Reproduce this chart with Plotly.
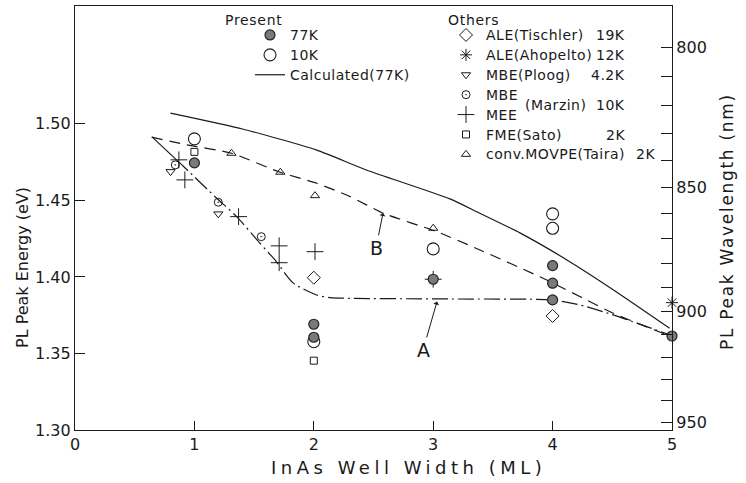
import plotly.graph_objects as go

# ---------------- data ----------------
# Present work, 77 K (filled circles)
x_77k = [1, 2, 2, 3, 4, 4, 4, 5]
e_77k = [1.4745, 1.3691, 1.3606, 1.3985, 1.4074, 1.3959, 1.3850, 1.3614]
# Present work, 10 K (open circles)
x_10k = [1, 2, 3, 4, 4]
e_10k = [1.4902, 1.3577, 1.4183, 1.4412, 1.4318]
# Others
x_tischler = [2, 4]
e_tischler = [1.3995, 1.3745]
x_ahopelto = [5]
e_ahopelto = [1.3832]
x_ploog = [0.80, 1.20]
e_ploog = [1.4688, 1.4412]
x_marzin_mbe = [0.84, 1.20, 1.56]
e_marzin_mbe = [1.4732, 1.4488, 1.4263]
x_marzin_mee = [0.87, 0.92, 1.37, 1.71, 1.71, 2.01, 3.0]
e_marzin_mee = [1.4765, 1.4634, 1.4394, 1.4203, 1.4093, 1.4165, 1.3985]
x_sato = [1, 2]
e_sato = [1.4817, 1.3453]
x_taira = [1.31, 1.72, 2.01, 3.0]
e_taira = [1.4808, 1.4684, 1.4531, 1.4318]

# Calculated (77 K) curve
x_calc = [0.80, 1.41, 2.02, 2.44, 3.14, 3.39, 3.73, 4.12, 4.51, 4.98]
e_calc = [1.5070, 1.4965, 1.4830, 1.4699, 1.4510, 1.4416, 1.4286, 1.4111, 1.3915, 1.3665]
# Guide line A (dash-dot, solid at its start)
x_line_a = [0.645, 0.85, 0.905, 1.187, 1.354, 1.549, 1.675, 1.826, 2.024, 2.136, 3.141, 3.987, 4.229, 4.506, 4.983]
e_line_a = [1.4915, 1.4765, 1.4725, 1.4514, 1.4394, 1.4220, 1.4111, 1.3961, 1.3882, 1.3865, 1.3856, 1.3850, 1.3817, 1.3752, 1.3621]
# Guide line B (dashed)
x_line_b = [0.642, 0.936, 1.312, 1.717, 2.024, 2.303, 2.582, 3.029, 3.392, 3.951, 4.508, 4.983]
e_line_b = [1.4913, 1.4863, 1.4808, 1.4684, 1.4612, 1.4525, 1.4416, 1.4296, 1.4176, 1.3980, 1.3763, 1.3614]

# legend texts
present_names = ["77K", "10K", "Calculated(77K)"]
others_names = ["ALE(Tischler)", "ALE(Ahopelto)", "MBE(Ploog)", "MBE", "MEE", "FME(Sato)", "conv.MOVPE(Taira)"]
others_temps = ["19K", "12K", "4.2K", "10K", "2K", "2K"]

# axis ticks
x_ticks = [0, 1, 2, 3, 4, 5]
e_ticks = [1.30, 1.35, 1.40, 1.45, 1.50]
e_tick_labels = ["1.30", "1.35", "1.40", "1.45", "1.50"]
wl_ticks = [800, 810, 820, 830, 840, 850, 860, 870, 880, 890, 900, 910, 920, 930, 940, 950]
wl_labels = ["800", "", "", "", "", "850", "", "", "", "", "900", "", "", "", "", "950"]

HC = 1239.84  # eV*nm
E_RANGE = [1.30, 1.577]
FONT = "DejaVu Sans"
INK = "#1a1a1a"

# plot-area geometry in pixels (used only for placing texts)
L, R, T, B = 75, 672, 6, 430
W, H = R - L, B - T


def px(xp):
    return (xp - L) / W


def py(yp):
    return (B - yp) / H


def lg(s, size=14, sp=0.5):
    return '<span style="font-size:%spx;letter-spacing:%spx">%s</span>' % (size, sp, s)


fig = go.Figure()

# ---- lines ----
fig.add_trace(go.Scatter(x=x_calc, y=e_calc, mode="lines", name=lg(present_names[2]),
                         line=dict(color=INK, width=1.2, shape="spline", smoothing=0.6),
                         legend="legend", legendrank=3))
fig.add_trace(go.Scatter(x=x_line_b, y=e_line_b, mode="lines", showlegend=False,
                         line=dict(color=INK, width=1.2, dash="11px,7px",
                                   shape="spline", smoothing=0.6)))
fig.add_trace(go.Scatter(x=x_line_a[:2], y=e_line_a[:2], mode="lines", showlegend=False,
                         line=dict(color=INK, width=1.2)))
fig.add_trace(go.Scatter(x=x_line_a[1:], y=e_line_a[1:], mode="lines", showlegend=False,
                         line=dict(color=INK, width=1.2, dash="16px,4px,2px,4px",
                                   shape="spline", smoothing=0.6)))


# ---- others ----
def others(xs, ys, name, symbol, size, rank, lw=1.0):
    fig.add_trace(go.Scatter(
        x=xs, y=ys, mode="markers", name=lg(name), legend="legend2", legendrank=rank,
        cliponaxis=False,
        marker=dict(symbol=symbol, size=size, color=INK, line=dict(color=INK, width=lw))))


others(x_tischler, e_tischler, others_names[0], "diamond-open", 10, 1)
others(x_ahopelto, e_ahopelto, others_names[1], "asterisk-open", 10, 2)
others(x_ploog, e_ploog, others_names[2], "triangle-down-open", 8, 3)
others(x_marzin_mbe, e_marzin_mbe, others_names[3], "circle-open-dot", 8, 4)
others(x_marzin_mee, e_marzin_mee, others_names[4], "cross-thin-open", 12, 5)
others(x_sato, e_sato, others_names[5], "square-open", 7, 6)
others(x_taira, e_taira, others_names[6], "triangle-up-open", 8, 7)

# ---- present ----
fig.add_trace(go.Scatter(x=x_10k, y=e_10k, mode="markers", name=lg(present_names[1]),
                         legend="legend", legendrank=2, cliponaxis=False,
                         marker=dict(symbol="circle-open", size=12, color=INK,
                                     line=dict(color=INK, width=1.1))))
fig.add_trace(go.Scatter(x=x_77k, y=e_77k, mode="markers", name=lg(present_names[0]),
                         legend="legend", legendrank=1, cliponaxis=False,
                         marker=dict(symbol="circle", size=10, color="#7a7a7a",
                                     line=dict(color="#222222", width=1.2))))

# secondary axis carrier (wavelength scale)
fig.add_trace(go.Scatter(x=[None], y=[None], yaxis="y2", showlegend=False, hoverinfo="skip"))

tickfont = dict(family=FONT, size=16, color=INK)
fig.update_layout(
    width=746, height=483,
    margin=dict(l=L, r=746 - R, t=T, b=483 - B),
    paper_bgcolor="white", plot_bgcolor="white",
    font=dict(family=FONT, color=INK),
    xaxis=dict(range=[0, 5], tickvals=x_ticks, ticks="inside", ticklen=9, tickwidth=1,
               tickcolor=INK, showline=True, linecolor=INK, linewidth=1.2, mirror=True,
               showgrid=False, zeroline=False, tickfont=tickfont),
    yaxis=dict(range=E_RANGE, tickvals=e_ticks, ticktext=e_tick_labels, ticks="inside",
               ticklen=10, tickwidth=1, tickcolor=INK, showline=True, linecolor=INK,
               linewidth=1.2, showgrid=False, zeroline=False, tickfont=tickfont),
    yaxis2=dict(range=E_RANGE, overlaying="y", side="right",
                tickvals=[HC / w for w in wl_ticks], ticktext=wl_labels,
                ticks="inside", ticklen=11, tickwidth=1, tickcolor=INK,
                showline=True, linecolor=INK, linewidth=1.2, showgrid=False,
                zeroline=False, tickfont=tickfont),
    legend=dict(x=px(250), xanchor="left", y=py(20), yanchor="top",
                bgcolor="rgba(0,0,0,0)", font=dict(family=FONT, size=13, color=INK),
                traceorder="normal"),
    legend2=dict(x=px(446), xanchor="left", y=py(20), yanchor="top",
                 bgcolor="rgba(0,0,0,0)", font=dict(family=FONT, size=13, color=INK),
                 traceorder="normal"),
    showlegend=True,
)


def text(s, xp, yp, size=14, xanchor="center", angle=0):
    fig.add_annotation(text=s, xref="paper", yref="paper", x=px(xp), y=py(yp),
                       xanchor=xanchor, yanchor="middle", textangle=angle,
                       showarrow=False, font=dict(family=FONT, size=size, color=INK))


# legend headings and temperature column
text(lg("Present", 14, 0.7), 253, 20)
text(lg("Others", 14, 0.7), 473, 20)
ROW0, PITCH = 35, 19.9
temp_rows = [0, 1, 2, 3.5, 5, 6]
temp_right = [627, 627, 627, 627, 627, 657]
for t, r, xr in zip(others_temps, temp_rows, temp_right):
    text(lg(t), xr, ROW0 + PITCH * r, xanchor="right")
text(lg("(Marzin)"), 523, ROW0 + PITCH * 3.5, xanchor="left")

# axis titles
text("PL Peak Energy (eV)", 22, 268, size=16, angle=-90)
text('<span style="letter-spacing:1.7px">PL Peak Wavelength (nm)</span>', 727, 222,
     size=17, angle=-90)
text('<span style="letter-spacing:4.5px">InAs Well Width (ML)</span>', 408, 468, size=18)

# A / B guide labels
fig.add_annotation(text="B", x=2.58, y=1.4418, ax=2.521, ay=1.419, axref="x", ayref="y",
                   showarrow=True, arrowhead=1, arrowsize=1, arrowwidth=1, arrowcolor=INK,
                   font=dict(family=FONT, size=19, color=INK))
fig.add_annotation(text="A", x=3.032, y=1.3839, ax=2.915, ay=1.3523, axref="x", ayref="y",
                   showarrow=True, arrowhead=1, arrowsize=1, arrowwidth=1, arrowcolor=INK,
                   font=dict(family=FONT, size=19, color=INK))

fig.write_html("out.html", config={"displayModeBar": False},
               post_script="document.body.style.margin='0px';")
